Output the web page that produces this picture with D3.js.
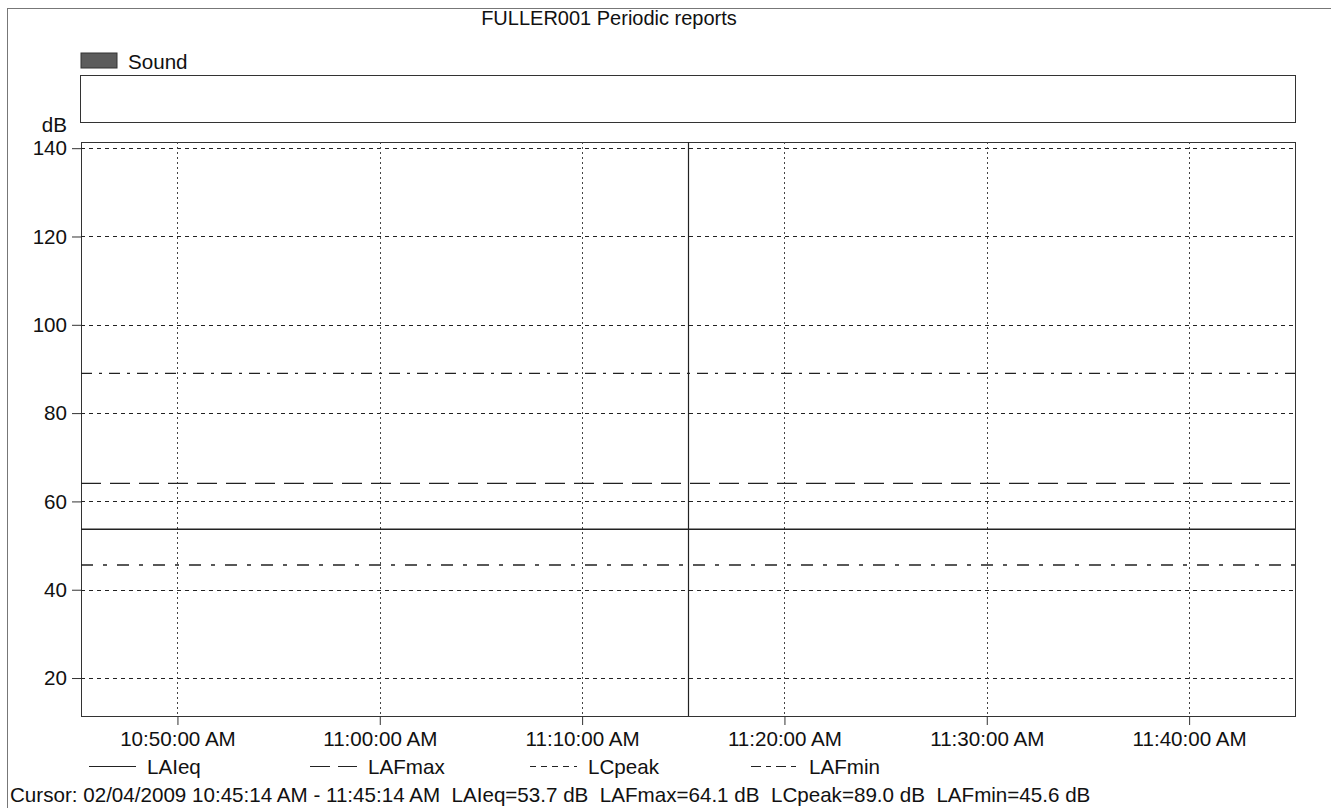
<!DOCTYPE html>
<html>
<head>
<meta charset="utf-8">
<script src="https://cdn.jsdelivr.net/npm/d3@7"></script>
<style>
  html, body { margin: 0; padding: 0; background: #fff; }
  svg { display: block; }
  text { font-family: "Liberation Sans", Arial, sans-serif; fill: #111; white-space: pre; }
</style>
</head>
<body>
<svg id="chart" width="1331" height="808"></svg>
<script>
// ---- data ----
const chartTitle = "FULLER001 Periodic reports";
const bandLabel = "Sound";
const yUnit = "dB";
const timeStart = "2009-02-04T10:45:14";
const timeEnd = "2009-02-04T11:45:14";
const cursorTime = "2009-02-04T11:15:14";
const sampleTimes = ["2009-02-04T10:45:14", "2009-02-04T11:45:14"];
const seriesNames = ["LAIeq", "LAFmax", "LCpeak", "LAFmin"];
const LAIeq = [53.7, 53.7];
const LAFmax = [64.1, 64.1];
const LCpeak = [89.0, 89.0];
const LAFmin = [45.6, 45.6];
const yTicks = [20, 40, 60, 80, 100, 120, 140];
const xTickTimes = ["2009-02-04T10:50:00", "2009-02-04T11:00:00", "2009-02-04T11:10:00",
                    "2009-02-04T11:20:00", "2009-02-04T11:30:00", "2009-02-04T11:40:00"];
const xTickLabels = ["10:50:00 AM", "11:00:00 AM", "11:10:00 AM", "11:20:00 AM", "11:30:00 AM", "11:40:00 AM"];
const cursorText = "Cursor: 02/04/2009 10:45:14 AM - 11:45:14 AM  LAIeq=53.7 dB  LAFmax=64.1 dB  LCpeak=89.0 dB  LAFmin=45.6 dB";

// ---- layout ----
const svg = d3.select("#chart");
const plot = { left: 81, right: 1295, top: 142, bottom: 716 };
const parse = s => new Date(s);
const fs = 20.6;

const x = d3.scaleTime().domain([parse(timeStart), parse(timeEnd)]).range([plot.left, plot.right]);
const y = d3.scaleLinear().domain([11.4, 141.4]).range([plot.bottom, plot.top]);

// outer page frame (left & top visible)
svg.append("rect").attr("x", 7.5).attr("y", 8.5).attr("width", 1400).attr("height", 900)
  .attr("fill", "none").attr("stroke", "#777").attr("stroke-width", 1);

// title
svg.append("text").attr("x", 609).attr("y", 25).attr("text-anchor", "middle")
  .attr("font-size", 20).text(chartTitle);

// Sound legend swatch
svg.append("rect").attr("x", 81).attr("y", 53).attr("width", 36).attr("height", 15)
  .attr("fill", "#5c5c5c").attr("stroke", "#333");
svg.append("text").attr("x", 128).attr("y", 69).attr("font-size", fs).text(bandLabel);
// Sound band box
svg.append("rect").attr("x", 80.5).attr("y", 75.5).attr("width", plot.right - 80).attr("height", 47)
  .attr("fill", "none").attr("stroke", "#333").attr("stroke-width", 1);

// dB label
svg.append("text").attr("x", 67).attr("y", 132).attr("text-anchor", "end")
  .attr("font-size", fs).text(yUnit);

// plot frame
svg.append("rect").attr("x", plot.left + 0.5).attr("y", plot.top + 0.5)
  .attr("width", plot.right - plot.left).attr("height", plot.bottom - plot.top)
  .attr("fill", "none").attr("stroke", "#333").attr("stroke-width", 1);

// horizontal grid
svg.append("g").selectAll("line").data(yTicks).join("line")
  .attr("x1", plot.left).attr("x2", plot.right)
  .attr("y1", d => Math.round(y(d)) + 0.5).attr("y2", d => Math.round(y(d)) + 0.5)
  .attr("stroke", "#222").attr("stroke-width", 1).attr("stroke-dasharray", "4,4");

// vertical grid
svg.append("g").selectAll("line").data(xTickTimes).join("line")
  .attr("x1", d => Math.round(x(parse(d))) + 0.5).attr("x2", d => Math.round(x(parse(d))) + 0.5)
  .attr("y1", plot.top).attr("y2", plot.bottom)
  .attr("stroke", "#444").attr("stroke-width", 1).attr("stroke-dasharray", "2,3");

// y axis
const yAxis = d3.axisLeft(y).tickValues(yTicks).tickSize(9).tickPadding(5).tickFormat(d3.format("d"));
const gy = svg.append("g").attr("transform", `translate(${plot.left},0)`).call(yAxis);
gy.select(".domain").remove();
gy.selectAll(".tick line").attr("stroke", "#333");
gy.selectAll(".tick text").attr("font-size", fs).attr("font-family", "Liberation Sans, Arial, sans-serif").attr("fill", "#111");

// x axis
const xAxis = d3.axisBottom(x).tickValues(xTickTimes.map(parse)).tickSize(9).tickPadding(6)
  .tickFormat((d, i) => xTickLabels[i]);
const gx = svg.append("g").attr("transform", `translate(0,${plot.bottom})`).call(xAxis);
gx.select(".domain").remove();
gx.selectAll(".tick line").attr("stroke", "#333");
gx.selectAll(".tick text").attr("font-size", fs).attr("font-family", "Liberation Sans, Arial, sans-serif").attr("fill", "#111");

// cursor line
svg.append("line").attr("x1", Math.round(x(parse(cursorTime))) + 0.5).attr("x2", Math.round(x(parse(cursorTime))) + 0.5)
  .attr("y1", plot.top).attr("y2", plot.bottom).attr("stroke", "#222").attr("stroke-width", 1.2);

// series
const seriesData = [LAIeq, LAFmax, LCpeak, LAFmin];
const dashes = ["none", "20,9", "11,7,3,7", "12,10,4,10"];
const line = d3.line().x(d => x(d.t)).y(d => y(d.v));
seriesData.forEach((vals, i) => {
  const pts = vals.map((v, j) => ({ t: parse(sampleTimes[j]), v }));
  svg.append("path").datum(pts).attr("d", line)
    .attr("fill", "none").attr("stroke", "#222").attr("stroke-width", 1.3)
    .attr("stroke-dasharray", dashes[i]);
});

// bottom legend
const legendDash = ["none", "20,8", "6,5", "10,5,5,5"];
const legendTextX = [147, 368, 588, 809];
const legend = svg.append("g");
seriesNames.forEach((name, i) => {
  legend.append("line").attr("x1", legendTextX[i] - 58).attr("x2", legendTextX[i] - 11)
    .attr("y1", 766.5).attr("y2", 766.5)
    .attr("stroke", "#222").attr("stroke-width", 1.2).attr("stroke-dasharray", legendDash[i]);
  legend.append("text").attr("x", legendTextX[i]).attr("y", 774).attr("font-size", fs).text(name);
});

// cursor text
svg.append("text").attr("x", 10).attr("y", 802).attr("font-size", fs).text(cursorText);
</script>
</body>
</html>
